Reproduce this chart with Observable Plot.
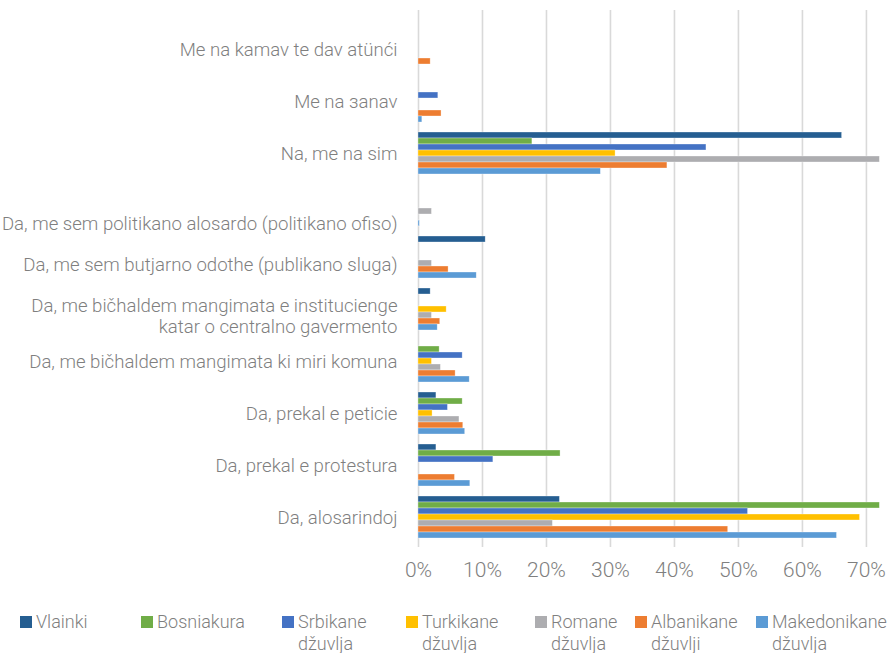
<!DOCTYPE html>
<html>
<head>
<meta charset="utf-8">
<script src="https://cdn.jsdelivr.net/npm/d3@7"></script>
<script src="https://cdn.jsdelivr.net/npm/@observablehq/plot@0.6"></script>
<style>
  body { margin: 0; background: #fff; font-family: Roboto, "Noto Sans", sans-serif; }
  #wrap { position: relative; width: 889px; height: 653px; overflow: hidden; }
  #plot { position: absolute; left: 0; top: 0; }
  .sw { position: absolute; width: 12px; height: 12px; top: 616px; }
  .lt { position: absolute; top: 611px; font-size: 18px; line-height: 22px; font-weight: 300; color: #7f7f7f; white-space: pre; }
</style>
</head>
<body>
<div id="wrap"><div id="plot"></div></div>
<script>
// ---- data (percent) ----
const categories = [
  "Me na kamav te dav atünći",
  "Me na зanav",
  "Na, me na sim",
  "Da, me sem politikano alosardo (politikano ofiso)",
  "Da, me sem butjarno odothe (publikano sluga)",
  "Da, me bičhaldem mangimata e institucienge\nkatar o centralno gavermento",
  "Da, me bičhaldem mangimata ki miri komuna",
  "Da, prekal e peticie",
  "Da, prekal e protestura",
  "Da, alosarindoj"
];
const series = ["Vlainki", "Bosniakura", "Srbikane\ndžuvlja", "Turkikane\ndžuvlja", "Romane\ndžuvlja", "Albanikane\ndžuvlji", "Makedonikane\ndžuvlja"];
const vlainki      = [null, null, 66.2, null, 10.5, 1.9, null, 2.8, 2.8, 22.1];
const bosniakura   = [null, null, 17.8, null, null, null, 3.3, 6.9, 22.2, 72.1];
const srbikane     = [null, 3.1, 45.0, null, null, null, 6.9, 4.6, 11.7, 51.5];
const turkikane    = [null, null, 30.8, null, null, 4.4, 2.1, 2.2, null, 69.0];
const romane       = [null, null, 72.1, 2.1, 2.1, 2.1, 3.5, 6.4, null, 21.0];
const albanikane   = [1.9, 3.6, 38.9, null, 4.7, 3.4, 5.8, 7.0, 5.7, 48.4];
const makedonikane = [null, 0.6, 28.5, 0.2, 9.1, 3.0, 8.0, 7.3, 8.1, 65.4];
const xTicks = [0, 10, 20, 30, 40, 50, 60, 70];

// ---- styling ----
const colors = ["#255e91", "#70ad47", "#4472c4", "#ffc000", "#adadb0", "#ed7d31", "#5b9bd5"];
const seriesValues = [vlainki, bosniakura, srbikane, turkikane, romane, albanikane, makedonikane];
const labelOffsets = {3: 18, 4: 7, 5: 6};
const legendLeft = [20, 141, 282, 406, 535, 635, 756];

const rows = [];
seriesValues.forEach((vals, i) => {
  vals.forEach((v, j) => { if (v != null) rows.push({series: series[i], category: categories[j], value: v}); });
});

const W = 889, H = 600;
const barMarks = series.map((s, i) => Plot.barX(rows.filter(r => r.series === s), {
  x: "value", y: "category", fill: "series", dy: (i - 3) * 6,
  stroke: "white", strokeOpacity: 0.55, strokeWidth: 0.6
}));

const labelMarks = [];
const offsetGroups = d3.group(categories.map((c, j) => ({c, off: labelOffsets[j] || 0})), d => d.off);
for (const [off, items] of offsetGroups) {
  labelMarks.push(Plot.text(items, {
    x: () => 0, y: d => d.c, text: d => d.c, dx: -21, dy: off, textAnchor: "end",
    fill: "#7f7f7f", fontSize: 18.6, fontWeight: 300, lineHeight: 1.12
  }));
}

const chart = Plot.plot({
  width: W, height: H,
  marginLeft: 418, marginRight: 9, marginTop: 10, marginBottom: H - 547,
  style: {fontFamily: "Roboto, sans-serif", background: "#fff"},
  x: {domain: [0, 72.2], axis: null, label: null},
  y: {domain: categories, range: [20.5, 546.2], paddingInner: 0.886, paddingOuter: 0.443, axis: null, label: null},
  color: {domain: series, range: colors},
  marks: [
    Plot.ruleX(xTicks, {stroke: "#d9d9d9", strokeWidth: 1.6}),
    ...barMarks,
    ...labelMarks,
    Plot.axisX(xTicks, {
      tickSize: 0, tickPadding: 15, tickFormat: d => `${d}%`, label: null,
      fontSize: 21, fontWeight: 300, fill: "#7f7f7f", anchor: "bottom"
    })
  ]
});
document.getElementById("plot").appendChild(chart);

const wrap = document.getElementById("wrap");
series.forEach((s, i) => {
  const sw = document.createElement("div");
  sw.className = "sw"; sw.style.left = legendLeft[i] + "px"; sw.style.background = colors[i];
  wrap.appendChild(sw);
  const t = document.createElement("div");
  t.className = "lt"; t.style.left = (legendLeft[i] + 16) + "px"; t.textContent = s;
  wrap.appendChild(t);
});
</script>
</body>
</html>
